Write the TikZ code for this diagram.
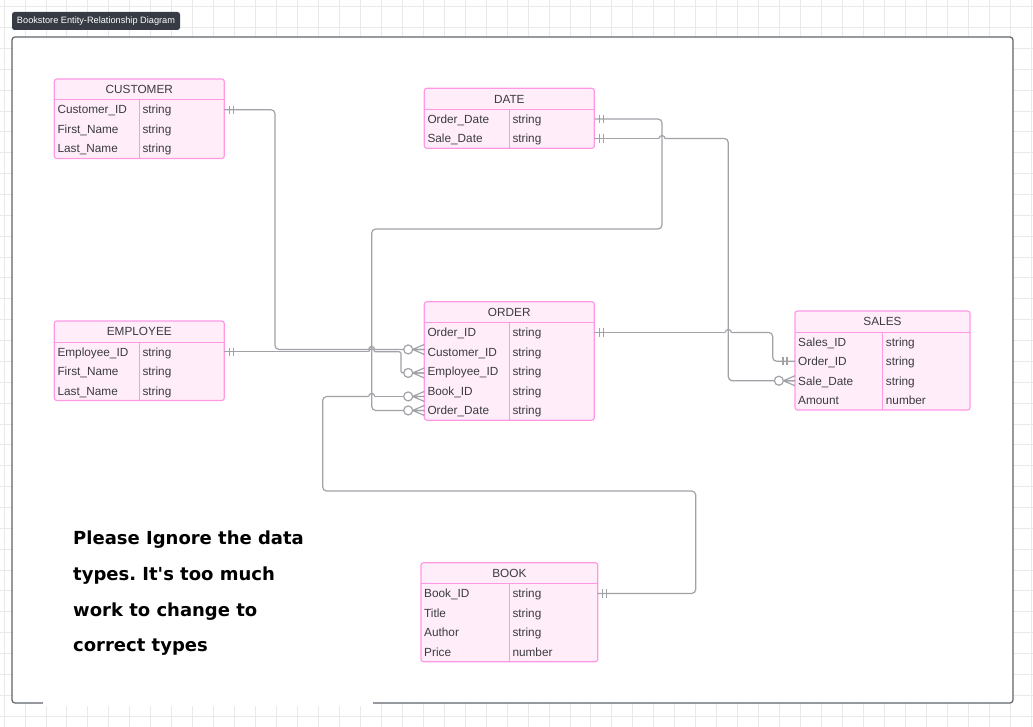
\documentclass[tikz,border=0pt]{standalone}
\usepackage{fontspec}
\setmainfont{Liberation Sans}
\newfontfamily\notefont{DejaVu Sans}
\usetikzlibrary{calc}
\frenchspacing

\definecolor{tblpink}{RGB}{255,153,230}
\definecolor{tblfill}{RGB}{255,238,250}
\definecolor{conngray}{RGB}{160,162,168}
\definecolor{txtgray}{RGB}{58,58,64}
\definecolor{framegray}{RGB}{95,99,106}
\definecolor{tagdark}{RGB}{55,60,68}
\definecolor{gridgray}{RGB}{233,233,233}

% entity table: name, left, top, width, column split, title, field/type list
\newcommand{\ertable}[7]{%
  \foreach \fld/\typ [count=\rk] in {#7}{\xdef\rowcount{\rk}}%
  \pgfmathsetmacro{\tabh}{21+19.5*\rowcount}%
  \node[tablebox, minimum width=#4pt, minimum height=\tabh pt, anchor=north west] (#1) at (#2,#3) {};
  \draw[tablerule] ([yshift=-21pt]#1.north west) -- ([yshift=-21pt]#1.north east);
  \draw[tablerule] ([xshift=#5pt,yshift=-21pt]#1.north west) -- ([xshift=#5pt]#1.south west);
  \node[headtext] (#1-title) at ([yshift=-10.5pt]#1.north) {#6};
  \foreach \fld/\typ [count=\rk] in {#7}{%
    \node[celltext] (#1-\rk) at ([xshift=3pt,yshift={-30.75pt-19.5pt*(\rk-1)}]#1.north west) {\fld};
    \node[celltext] (#1-\rk-t) at ([xshift={#5pt+3pt},yshift={-30.75pt-19.5pt*(\rk-1)}]#1.north west) {\typ};
  }%
}

% small bridge where one connector jumps over another
\newcommand{\hop}[2]{\draw[conn] ({#1-3},#2) arc (180:360:3);}

\begin{document}
\begin{tikzpicture}[x=1pt,y=-1pt,
  gridline/.style={draw=gridgray, line width=0.8pt},
  frame/.style={draw=framegray, line width=1.2pt, fill=white, rounded corners=3pt},
  tag/.style={fill=tagdark, rounded corners=2.5pt, text=white, inner sep=0pt,
    minimum width=168pt, minimum height=18pt, font=\fontsize{9.2}{10}\selectfont},
  tablebox/.style={draw=tblpink, fill=tblfill, line width=1.2pt, rounded corners=2.5pt, inner sep=0pt, outer sep=0pt},
  tablerule/.style={draw=tblpink, line width=1pt},
  celltext/.style={font=\fontsize{11.8}{13}\selectfont, text=txtgray, inner sep=0pt,
    text height=8.5pt, text depth=0pt, anchor=west},
  headtext/.style={celltext, anchor=center},
  conn/.style={draw=conngray, line width=1.2pt},
  note/.style={font=\notefont\bfseries\fontsize{18}{20}\selectfont, text=black, inner sep=0pt, anchor=base west},
  oneR/.pic={\draw[conn] (5,-4.2) -- (5,4.2) (9,-4.2) -- (9,4.2);},
  oneL/.pic={\draw[conn] (-8,-4.2) -- (-8,4.2) (-12,-4.2) -- (-12,4.2);},
  zmany/.pic={\draw[conn] (-11.6,0) -- (0,-5) (-11.6,0) -- (0,5) (-11.6,0) -- (0,0);
              \draw[conn, fill=white] (-16.1,0) circle (4.5);},
]
\useasboundingbox (0,0) rectangle (1033,727);

% background grid
\foreach \k in {0,...,49}{\draw[gridline] ({4+20.96*\k},0) -- ({4+20.96*\k},727);}
\foreach \k in {0,...,34}{\draw[gridline] (0,{6.7+20.86*\k}) -- (1033,{6.7+20.86*\k});}

% canvas frame and title tag
\draw[frame] (12,37) rectangle (1013,703);
\node[tag] (tag) at (96,21) {Bookstore Entity-Relationship Diagram};

% entities
\ertable{cust}{54.3}{79}{170}{85}{CUSTOMER}{Customer\_ID/string, First\_Name/string, Last\_Name/string}
\ertable{date}{424.3}{88.3}{170}{85}{DATE}{Order\_Date/string, Sale\_Date/string}
\ertable{ordr}{424.3}{301.7}{170}{85}{ORDER}{Order\_ID/string, Customer\_ID/string, Employee\_ID/string, Book\_ID/string, Order\_Date/string}
\ertable{sales}{795}{311}{175}{87.7}{SALES}{Sales\_ID/string, Order\_ID/string, Sale\_Date/string, Amount/number}
\ertable{emp}{54.3}{321}{170}{85}{EMPLOYEE}{Employee\_ID/string, First\_Name/string, Last\_Name/string}
\ertable{book}{421}{562.7}{176.7}{88.3}{BOOK}{Book\_ID/string, Title/string, Author/string, Price/number}

% CUSTOMER.Customer_ID -> ORDER.Customer_ID
\draw[conn, rounded corners=4pt] (cust.east |- cust-1) -| (275,349.5) -- (368.7,349.5);
\hop{371.7}{349.5}
\draw[conn] (374.7,349.5) -- ($(ordr.west |- ordr-2)+(0,-2.5)$);

% EMPLOYEE.Employee_ID -> ORDER.Employee_ID
\draw[conn] (emp.east |- emp-1) -- (368.7,351.75);
\hop{371.7}{351.75}
\draw[conn, rounded corners=2pt] (374.7,351.75) -| (401,373) -- ($(ordr.west |- ordr-3)+(0,1.5)$);

% DATE.Order_Date -> ORDER.Order_Date
\draw[conn, rounded corners=4pt] (date.east |- date-1) -| (662,229) -| (371.7,410.45) -- (ordr.west |- ordr-5);

% DATE.Sale_Date -> SALES.Sale_Date
\draw[conn] (date.east |- date-2) -- (659,138.55);
\hop{662}{138.55}
\draw[conn, rounded corners=4pt] (665,138.55) -| (728.3,380.75) -- (sales.west |- sales-3);

% ORDER.Order_ID -> SALES.Order_ID
\draw[conn] (ordr.east |- ordr-1) -- (725.3,332.45);
\hop{728.3}{332.45}
\draw[conn, rounded corners=4pt] (731.3,332.45) -| (772.7,361.25) -- (sales.west |- sales-2);

% BOOK.Book_ID -> ORDER.Book_ID
\draw[conn, rounded corners=4pt] (book.east |- book-1) -| (695.7,491) -| (322.7,396.45) -- (368.7,396.45);
\hop{371.7}{396.45}
\draw[conn] (374.7,396.45) -- ($(ordr.west |- ordr-4)+(0,5.5)$);

% cardinality marks
\pic at (cust.east |- cust-1) {oneR};
\pic at (emp.east |- emp-1) {oneR};
\pic at (date.east |- date-1) {oneR};
\pic at (date.east |- date-2) {oneR};
\pic at (ordr.east |- ordr-1) {oneR};
\pic at (book.east |- book-1) {oneR};
\pic at (sales.west |- sales-2) {oneL};
\pic at ($(ordr.west |- ordr-2)+(0,-2.5)$) {zmany};
\pic at ($(ordr.west |- ordr-3)+(0,1.5)$) {zmany};
\pic at ($(ordr.west |- ordr-4)+(0,5.5)$) {zmany};
\pic at (ordr.west |- ordr-5) {zmany};
\pic at (sales.west |- sales-3) {zmany};

% note box (its white fill breaks the frame's lower edge)
\fill[white] (43,699) rectangle (373,706);
\node[note] (note1) at (73,544.3) {Please Ignore the data};
\node[note] (note2) at (73,580) {types. It's too much};
\node[note] (note3) at (73,616) {work to change to};
\node[note] (note4) at (73,651.7) {correct types};
\end{tikzpicture}
\end{document}
